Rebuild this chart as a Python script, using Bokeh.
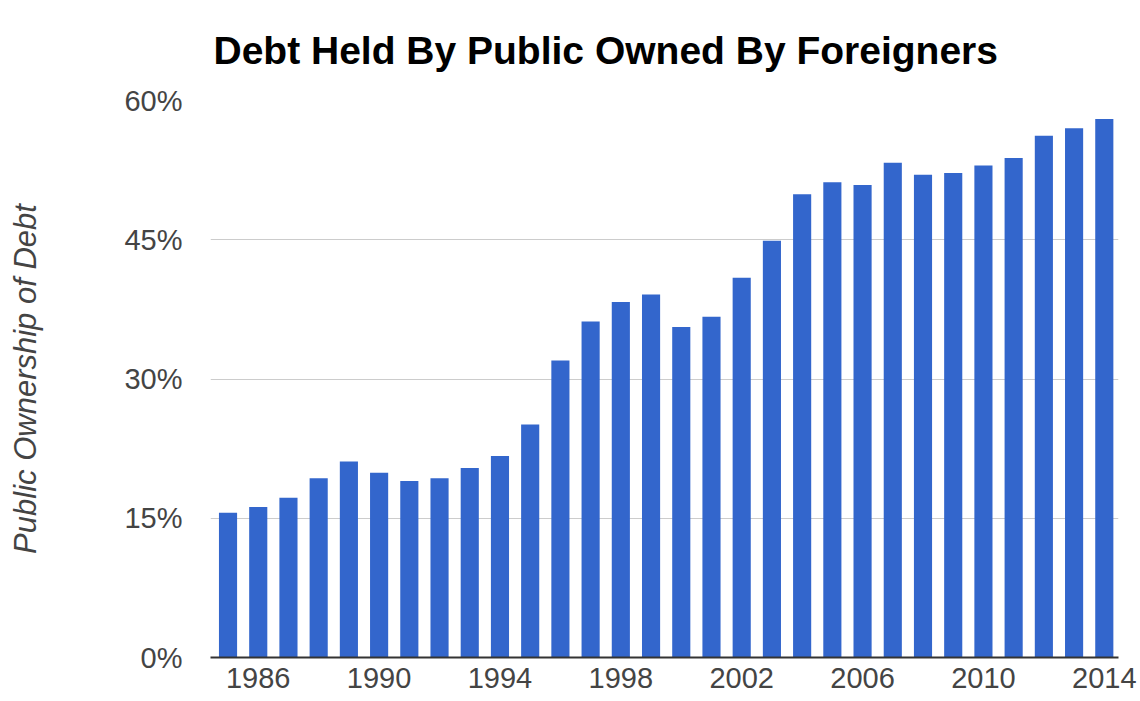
from bokeh.plotting import figure
from bokeh.models import FixedTicker, PrintfTickFormatter, Range1d, ColumnDataSource, Title
from bokeh.embed import file_html
from bokeh.resources import INLINE

years = list(range(1985, 2015))
share = [15.6, 16.2, 17.2, 19.3, 21.1, 19.9, 19.0, 19.3, 20.4, 21.7,
         25.1, 32.0, 36.2, 38.3, 39.1, 35.6, 36.7, 40.9, 44.9, 49.9,
         51.2, 50.9, 53.3, 52.0, 52.2, 53.0, 53.8, 56.2, 57.0, 58.0]
x_ticks = [1986, 1990, 1994, 1998, 2002, 2006, 2010, 2014]
y_ticks = [0, 15, 30, 45, 60]
title_text = "Debt Held By Public Owned By Foreigners"
y_label = "Public Ownership of Debt"

src = ColumnDataSource(dict(year=years, share=share))

p = figure(width=1140, height=701, output_backend="svg", toolbar_location=None,
           x_range=Range1d(1984.42, 2014.47), y_range=Range1d(0, 60),
           min_border_left=210, min_border_right=22, min_border_top=100,
           min_border_bottom=44)

p.vbar(x="year", top="share", width=0.6, source=src, color="#3366cc", line_color=None)

title = Title(text=title_text, text_font="Liberation Sans", text_font_size="39px",
              text_font_style="bold", text_color="#000000", align="left",
              vertical_align="top", offset=3, standoff=54)
p.add_layout(title, "above")

p.outline_line_color = None
p.xgrid.grid_line_color = None
p.ygrid.grid_line_color = "#cccccc"
p.ygrid.grid_line_width = 1

xaxis = p.below[0]
yaxis = p.left[0]
xaxis.ticker = FixedTicker(ticks=x_ticks)
yaxis.ticker = FixedTicker(ticks=y_ticks)
yaxis.formatter = PrintfTickFormatter(format="%d%%")

for ax in (xaxis, yaxis):
    ax.major_tick_line_color = None
    ax.minor_tick_line_color = None
    ax.major_tick_out = 0
    ax.major_tick_in = 0
    ax.minor_tick_out = 0
    ax.major_label_text_font = "Liberation Sans"
    ax.major_label_text_font_size = "29px"
    ax.major_label_text_color = "#444444"

xaxis.axis_line_color = "#333333"
xaxis.axis_line_width = 2
xaxis.major_label_standoff = 10
yaxis.axis_line_color = None
yaxis.major_label_standoff = 28

yaxis.axis_label = y_label
yaxis.axis_label_text_font = "Liberation Sans"
yaxis.axis_label_text_font_size = "31px"
yaxis.axis_label_text_font_style = "italic"
yaxis.axis_label_text_color = "#444444"
yaxis.axis_label_standoff = 78

open("out.html", "w").write(file_html(p, INLINE))
